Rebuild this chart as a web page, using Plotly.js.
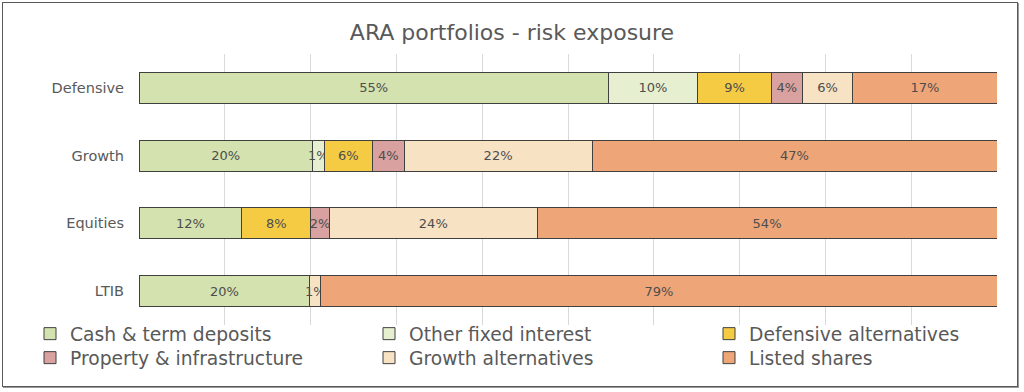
<!DOCTYPE html>
<html>
<head>
<meta charset="utf-8">
<script src="https://cdn.plot.ly/plotly-3.0.1.min.js"></script>
<style>
  html, body { margin: 0; padding: 0; background: #ffffff; }
  #wrap { position: relative; width: 1024px; height: 392px; }
  #chart { position: absolute; left: 0; top: 0; width: 1024px; height: 392px; }
  #frame { position: absolute; left: 2px; top: 2px; width: 1014px; height: 383px;
           border: 1px solid #595959; box-shadow: 1px 1px 0 #9a9a9a; pointer-events: none; }
</style>
</head>
<body>
<div id="wrap">
  <div id="chart"></div>
  <div id="frame"></div>
</div>
<script>
// Categories (top to bottom)
var portfolios = ['Defensive', 'Growth', 'Equities', 'LTIB'];

// Series values (% of portfolio)
var cashTermDeposits       = [54.7, 20.2, 12.0, 19.9];
var otherFixedInterest     = [10.4, 1.4, null, null];
var defensiveAlternatives  = [8.6, 5.6, 8.0, null];
var propertyInfrastructure = [3.6, 3.7, 2.2, null];
var growthAlternatives     = [5.9, 21.9, 24.2, 1.3];
var listedShares           = [16.8, 47.2, 53.6, 78.8];

var seriesNames = ['Cash & term deposits', 'Other fixed interest', 'Defensive alternatives',
                   'Property & infrastructure', 'Growth alternatives', 'Listed shares'];
var seriesValues = [cashTermDeposits, otherFixedInterest, defensiveAlternatives,
                    propertyInfrastructure, growthAlternatives, listedShares];
var seriesColors = ['#d3e2ae', '#e6f0d1', '#f5cb44', '#d9a19f', '#f8e2c4', '#eea678'];

// One legend per entry, laid out in a 3-column x 2-row grid
var legendIds = ['legend', 'legend2', 'legend3', 'legend4', 'legend5', 'legend6'];
var legendColPx = [30, 369, 709];   // left edge of each legend column (px)
var legendRowPx = [334, 358];       // vertical centre of each legend row (px)

var traces = seriesNames.map(function (name, i) {
  return {
    type: 'bar',
    orientation: 'h',
    name: name,
    y: portfolios,
    x: seriesValues[i],
    legend: legendIds[i],
    marker: { color: seriesColors[i], line: { color: '#404040', width: 1 } },
    texttemplate: '%{x:.0f}%',
    textposition: 'inside',
    insidetextanchor: 'middle',
    textangle: 0,
    textfont: { family: 'DejaVu Sans', size: 13, color: '#4d4d4d' },
    hoverinfo: 'skip'
  };
});

var plotL = 139, plotW = 858, plotB = 325, plotH = 271;
function pxX(px) { return (px - plotL) / plotW; }
function pxY(py) { return (plotB - py) / plotH; }

function legendAt(pxLeft, pyMid) {
  return {
    orientation: 'v',
    x: pxX(pxLeft), xanchor: 'left',
    y: pxY(pyMid), yanchor: 'middle',
    itemwidth: 30,
    font: { family: 'DejaVu Sans', size: 18.7, color: '#595959' },
    bgcolor: 'rgba(0,0,0,0)',
    borderwidth: 0
  };
}

var layout = {
  width: 1024,
  height: 392,
  paper_bgcolor: '#ffffff',
  plot_bgcolor: '#ffffff',
  margin: { l: 139, r: 27, t: 54, b: 67, pad: 0, autoexpand: false },
  barmode: 'stack',
  bargap: 0.54,
  uniformtext: { mode: 'show', minsize: 13 },
  title: {
    text: 'ARA portfolios - risk exposure',
    font: { family: 'DejaVu Sans', size: 22, color: '#595959' },
    x: 0.5, xref: 'container', xanchor: 'center',
    y: 1 - 32 / 392, yref: 'container', yanchor: 'middle'
  },
  xaxis: {
    range: [0, 100],
    dtick: 10,
    showticklabels: false,
    showgrid: true,
    gridcolor: '#d9d9d9',
    gridwidth: 1,
    zeroline: false,
    showline: false,
    ticks: '',
    fixedrange: true
  },
  yaxis: {
    autorange: 'reversed',
    showgrid: false,
    zeroline: false,
    showline: false,
    ticks: '',
    ticklabelstandoff: 14,
    tickfont: { family: 'DejaVu Sans', size: 14.5, color: '#595959' },
    fixedrange: true
  },
  showlegend: true
};
legendIds.forEach(function (id, i) {
  layout[id] = legendAt(legendColPx[i % 3], legendRowPx[Math.floor(i / 3)]);
});

Plotly.newPlot('chart', traces, layout, { displayModeBar: false, staticPlot: true });
</script>
</body>
</html>
